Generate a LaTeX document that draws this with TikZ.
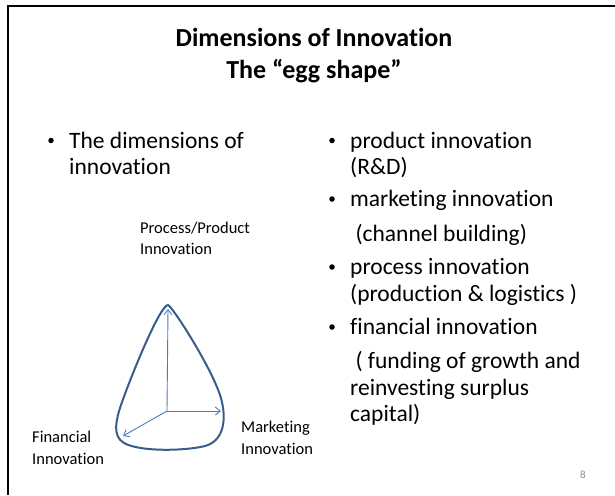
\documentclass[tikz,border=0pt]{standalone}
\usepackage{fontspec}
\setmainfont{Carlito}[Ligatures=NoCommon]
\usetikzlibrary{
    arrows.meta,
    positioning
}
\definecolor{eggblue}{HTML}{385D8A}
\definecolor{axisblue}{HTML}{4A7EBB}
\definecolor{pagegrey}{HTML}{8C8C8C}

\begin{document}
\begin{tikzpicture}[x=1pt, y=-1pt,
            title_text/.style={font=\bfseries\fontsize{26}{32}\selectfont, align=center, inner sep=0pt},
            body_text/.style={font=\fontsize{23.5}{26.5}\selectfont, anchor=base west, inner sep=0pt},
            bullet_dot/.style={circle, fill=black, inner sep=0pt, minimum size=5.5pt},
            axis_label/.style={font=\fontsize{16.5}{21}\selectfont, anchor=base west, inner sep=0pt},
            page_num/.style={font=\fontsize{11}{13}\selectfont, text=pagegrey, inner sep=0pt},
            egg_outline/.style={draw=eggblue, line width=2pt, line join=round},
            axis_arrow/.style={-{Straight Barb[length=5pt, width=8pt]}, draw=axisblue, line width=0.9pt},
            frame_line/.style={line width=2pt, black}
        ]
        \useasboundingbox (0,0) rectangle (615,495);

        % slide frame
        \draw[frame_line] (615,6.5) -- (7.5,6.5) -- (7.5,495);

        % title
        \node[title_text] (title) at (314,56) {Dimensions of Innovation\\The “egg shape”};

        % left column
        \node[body_text] (dims) at (69,148) {The dimensions of};
        \node[body_text, below=26.5pt of dims.base west, anchor=base west] (dims_2) {innovation};

        % right column
        \node[body_text] (prod) at (350,148) {product innovation};
        \node[body_text, below=26.5pt of prod.base west, anchor=base west] (prod_2) {(R\&D)};
        \node[body_text, below=32pt of prod_2.base west, anchor=base west] (mkt) {marketing innovation};
        \node[body_text, below=35pt of mkt.base west, anchor=base west] (mkt_2) {\ (channel building)};
        \node[body_text, below=33pt of mkt_2.base west, anchor=base west] (proc) {process innovation};
        \node[body_text, below=27pt of proc.base west, anchor=base west] (proc_2) {(production \& logistics )};
        \node[body_text, below=33pt of proc_2.base west, anchor=base west] (fin) {financial innovation};
        \node[body_text, below=34pt of fin.base west, anchor=base west] (fin_2) {\ ( funding of growth and};
        \node[body_text, below=26.5pt of fin_2.base west, anchor=base west] (fin_3) {reinvesting surplus};
        \node[body_text, below=26.5pt of fin_3.base west, anchor=base west] (fin_4) {capital)};

        \foreach \item in {dims, prod, mkt, proc, fin}
            \node[bullet_dot] at ([xshift=-18pt, yshift=7.5pt]\item.base west) {};

        % egg and its three axes
        \draw[egg_outline] (168,305) .. controls (172,306) and (210,365) .. (220,395)
            .. controls (226,413) and (227,440) .. (205,446)
            .. controls (185,451) and (140,452) .. (124,443)
            .. controls (112,436) and (116,420) .. (121,405)
            .. controls (131,376) and (160,305) .. (168,305) -- cycle;

        \coordinate (origin) at (167,411);
        \coordinate (proc_tip) at (168,309);
        \coordinate (mkt_tip) at (221,411);
        \coordinate (fin_tip) at (123,436);

        \draw[axis_arrow] (origin) -- (proc_tip);
        \draw[axis_arrow] (origin) -- (mkt_tip);
        \draw[axis_arrow] (origin) -- (fin_tip);

        \node[axis_label] (proc_label) at (140,233) {Process/Product};
        \node[axis_label, below=21pt of proc_label.base west, anchor=base west] (proc_label_2) {Innovation};
        \node[axis_label] (mkt_label) at (241,432) {Marketing};
        \node[axis_label, below=22pt of mkt_label.base west, anchor=base west] (mkt_label_2) {Innovation};
        \node[axis_label] (fin_label) at (32,442) {Financial};
        \node[axis_label, below=22pt of fin_label.base west, anchor=base west] (fin_label_2) {Innovation};

        % page number
        \node[page_num] (page) at (583,475) {8};
        \end{tikzpicture}
\end{document}
